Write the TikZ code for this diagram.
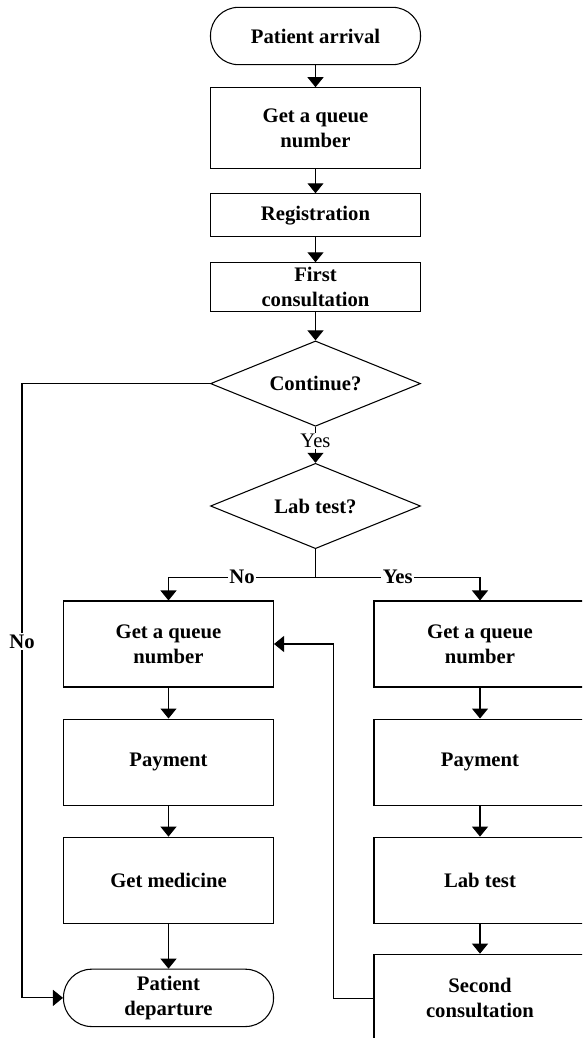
\documentclass[tikz,border=0pt]{standalone}
\usepackage{fontspec}
\setmainfont{Liberation Serif}
\usetikzlibrary{arrows.meta,positioning,shapes.geometric}

\begin{document}
\begin{tikzpicture}[x=0.75pt, y=-0.75pt,
    every node/.style={font=\fontsize{15.5}{18.75}\selectfont\bfseries},
    box/.style={draw, line width=0.8pt, align=center, minimum width=157.5pt,
      inner sep=2pt},
    term/.style={box, rounded corners=21pt, minimum height=43pt},
    dec/.style={draw, diamond, line width=0.8pt, minimum width=157.5pt,
      minimum height=64pt, inner sep=0pt, aspect=2.5},
    lbl/.style={fill=white, inner sep=1pt},
    arr/.style={-{Triangle[width=12pt,length=7.5pt]}, line width=0.8pt}
  ]
  \useasboundingbox (0,0) rectangle (582,1038);
  \clip (0,0) rectangle (582,1038);

  % main column
  \node[term] (arrive) at (315.5,36) {Patient arrival};
  \node[box, minimum height=60.75pt, below=16.5pt of arrive] (queue) {Get a queue\\number};
  \node[box, minimum height=32.25pt, below=18pt of queue] (reg) {Registration};
  \node[box, minimum height=36.75pt, below=18.75pt of reg] (first) {First\\consultation};
  \node[dec, below=21pt of first] (cont) {Continue?};
  \node[dec, below=27pt of cont] (labq) {Lab test?};

  % left branch: no lab test
  \node[box, minimum height=64.5pt] (lqueue) at (168.5,644) {Get a queue\\number};
  \node[box, minimum height=64.5pt, below=23.25pt of lqueue] (lpay) {Payment};
  \node[box, minimum height=64.5pt, below=23.25pt of lpay] (med) {Get medicine};
  \node[term, below=33.75pt of med] (depart) {Patient\\departure};

  % right branch: lab test
  \node[box, minimum width=159pt, minimum height=64.5pt] (rqueue) at (480,644) {Get a queue\\number};
  \node[box, minimum width=159pt, minimum height=64.5pt, below=23.25pt of rqueue] (rpay) {Payment};
  \node[box, minimum width=159pt, minimum height=64.5pt, below=23.25pt of rpay] (lab) {Lab test};
  \node[box, minimum width=159pt, minimum height=66pt, below=22.5pt of lab] (second) {Second\\consultation};

  \draw[arr] (arrive) -- (queue);
  \draw[arr] (queue) -- (reg);
  \draw[arr] (reg) -- (first);
  \draw[arr] (first) -- (cont);
  \draw[arr] (cont) -- node[lbl, pos=0.4, font=\fontsize{15.5}{18.75}\selectfont\mdseries] {Yes} (labq);
  \draw[arr] (cont.west) -- ++(-188,0) |- node[lbl, pos=0.21] {No} (depart.west);

  \draw (labq.south) -- ++(0,28) coordinate (split);
  \draw[arr] (split) -| node[lbl, pos=0.25] {No} (lqueue.north);
  \draw[arr] (split) -| node[lbl, pos=0.25] {Yes} (rqueue.north);

  \draw[arr] (lqueue) -- (lpay);
  \draw[arr] (lpay) -- (med);
  \draw[arr] (med) -- (depart);
  \draw[arr] (rqueue) -- (rpay);
  \draw[arr] (rpay) -- (lab);
  \draw[arr] (lab) -- (second);
  \draw[arr] (second.west) -- ++(-40,0) |- (lqueue.east);
\end{tikzpicture}
\end{document}
